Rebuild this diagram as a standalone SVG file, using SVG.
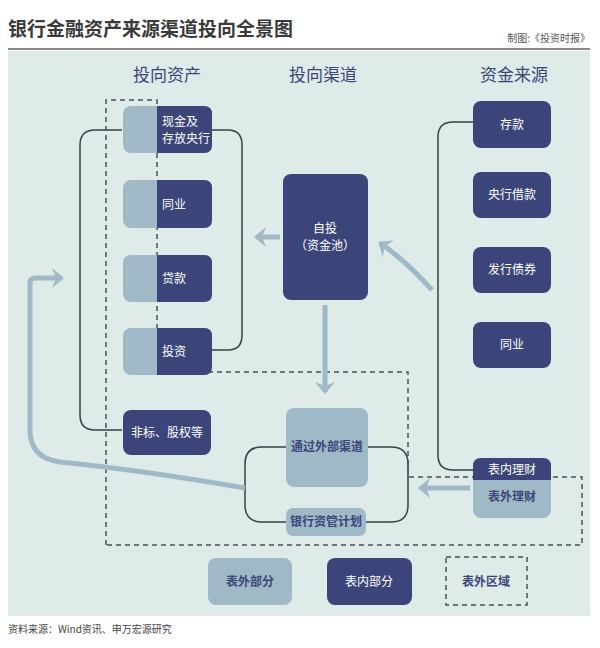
<svg xmlns="http://www.w3.org/2000/svg" width="600" height="648" viewBox="0 0 600 648">
<style>
text{font-family:"Noto Sans CJK SC","Liberation Sans",sans-serif}
.d{fill:#3c4579}.l{fill:#9fbac6}
.tw{fill:#fff;font-size:12px}.td{fill:#3c4579;font-size:12px;font-weight:bold}
.h{fill:#3c4579;font-size:17px;text-anchor:middle}
.br{fill:none;stroke:#3a4048;stroke-width:1.5}
.ds{fill:none;stroke:#4a5258;stroke-width:1.5;stroke-dasharray:5,4}
.ar{fill:none;stroke:#9fbac6;stroke-width:5}
</style>
<defs><marker id="a" markerWidth="4" markerHeight="4" refX="2" refY="2" orient="auto" markerUnits="strokeWidth"><path d="M0,0 L2.4,2 L0,4 L0.8,2Z" fill="#9fbac6"/></marker></defs>
<rect width="600" height="648" fill="#fff"/>
<text x="8" y="36" font-size="19" font-weight="bold" fill="#3a3a3a">银行金融资产来源渠道投向全景图</text>
<text x="590" y="42" font-size="10" fill="#555" text-anchor="end">制图:《投资时报》</text>
<line x1="8" y1="49" x2="590" y2="49" stroke="#888" stroke-width="2"/>
<rect x="8" y="51" width="582" height="565" fill="#dfebe8"/>
<text class="h" x="167" y="81">投向资产</text>
<text class="h" x="323" y="81">投向渠道</text>
<text class="h" x="514" y="81">资金来源</text>
<g id="connectors">
<path class="br" d="M122,130 H95 Q80,130 80,145 V415 Q80,430 95,430 H122"/>
<path class="br" d="M212,130 H228 Q242,130 242,145 V335 Q242,350 228,350 H212"/>
<path class="br" d="M473,122 H453 Q438,122 438,137 V455 Q438,470 453,470 H473"/>
<path class="br" d="M286,447 H262 Q245,447 245,464 V505 Q245,522 262,522 H286 M366,522 H391 Q408,522 408,505 V464 Q408,447 391,447 H368"/>
<path class="ds" d="M106,545 V100 H157 V372 H408 V477 H582 V545 Z"/>
<path class="ar" d="M280,237 H256" marker-end="url(#a)"/>
<path class="ar" d="M325,305 V392" marker-end="url(#a)"/>
<path class="ar" d="M432,290 Q405,260 380,243" marker-end="url(#a)"/>
<path class="ar" d="M470,488 H420" marker-end="url(#a)"/>
<path class="ar" d="M245,488 Q140,470 60,462 Q30,458 30,430 V282 Q30,278 36,278 H62" marker-end="url(#a)"/>
</g>
<g id="n1"><rect class="l" x="123" y="106" width="89" height="47" rx="8"/><path class="d" d="M157,106 H204 Q212,106 212,114 V145 Q212,153 204,153 H157Z"/><text class="tw" x="162" y="126">现金及</text><text class="tw" x="162" y="143">存放央行</text></g>
<g id="n2"><rect class="l" x="123" y="180" width="89" height="48" rx="8"/><path class="d" d="M157,180 H204 Q212,180 212,188 V220 Q212,228 204,228 H157Z"/><text class="tw" x="162" y="209">同业</text></g>
<g id="n3"><rect class="l" x="123" y="255" width="89" height="47" rx="8"/><path class="d" d="M157,255 H204 Q212,255 212,263 V294 Q212,302 204,302 H157Z"/><text class="tw" x="162" y="283">贷款</text></g>
<g id="n4"><rect class="l" x="123" y="328" width="89" height="47" rx="8"/><path class="d" d="M157,328 H204 Q212,328 212,336 V367 Q212,375 204,375 H157Z"/><text class="tw" x="162" y="356">投资</text></g>
<g id="n5"><rect class="d" x="123" y="410" width="88" height="45" rx="8"/><text class="tw" x="167" y="437" text-anchor="middle">非标、股权等</text></g>
<g id="n6"><rect class="d" x="283" y="174" width="85" height="126" rx="8"/><text class="tw" x="325" y="233" text-anchor="middle">自投</text><text class="tw" x="325" y="250" text-anchor="middle">（资金池）</text></g>
<g id="n7"><rect class="l" x="286" y="408" width="82" height="79" rx="8"/><text class="td" x="327" y="451" text-anchor="middle">通过外部渠道</text></g>
<g id="n8"><rect class="l" x="286" y="508" width="80" height="28" rx="7"/><text class="td" x="326" y="526" text-anchor="middle">银行资管计划</text></g>
<g id="n9"><rect class="d" x="473" y="101" width="78" height="47" rx="8"/><text class="tw" x="512" y="129" text-anchor="middle">存款</text></g>
<g id="n10"><rect class="d" x="473" y="172" width="78" height="46" rx="8"/><text class="tw" x="512" y="199" text-anchor="middle">央行借款</text></g>
<g id="n11"><rect class="d" x="473" y="247" width="78" height="46" rx="8"/><text class="tw" x="512" y="274" text-anchor="middle">发行债券</text></g>
<g id="n12"><rect class="d" x="473" y="322" width="78" height="46" rx="8"/><text class="tw" x="512" y="349" text-anchor="middle">同业</text></g>
<g id="n13"><rect class="l" x="473" y="458" width="78" height="60" rx="8"/><path class="d" d="M473,480 V466 Q473,458 481,458 H543 Q551,458 551,466 V480Z"/><text class="tw" x="512" y="474" text-anchor="middle">表内理财</text><text class="td" x="512" y="501" text-anchor="middle">表外理财</text></g>
<g id="legend">
<rect class="l" x="208" y="558" width="84" height="47" rx="8"/><text class="td" x="250" y="586" text-anchor="middle">表外部分</text>
<rect class="d" x="327" y="558" width="85" height="47" rx="8"/><text class="tw" x="369" y="586" text-anchor="middle">表内部分</text>
<rect class="ds" x="446" y="557" width="81" height="48"/><text class="td" x="486" y="586" text-anchor="middle">表外区域</text>
</g>
<text x="8" y="633" font-size="10" fill="#444">资料来源：Wind资讯、申万宏源研究</text>
</svg>
